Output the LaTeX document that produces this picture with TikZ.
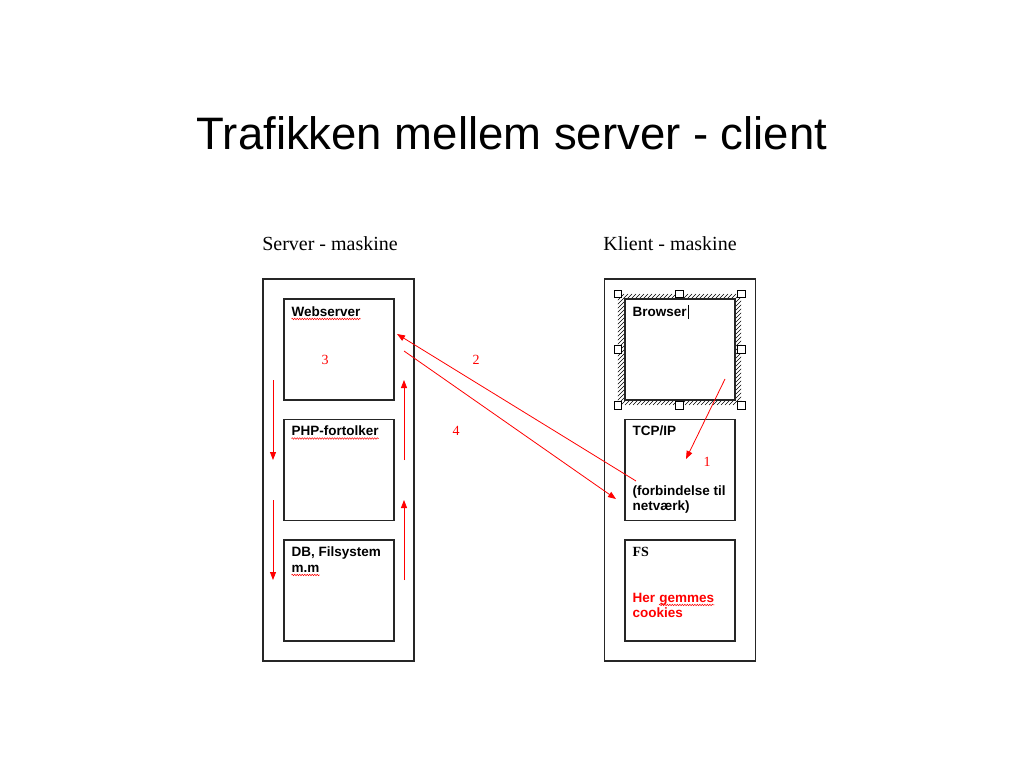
\documentclass[tikz,border=0pt]{standalone}
\usepackage{fontspec}
\setmainfont{Liberation Serif}
\newfontfamily\arialfont{Liberation Sans}
\usetikzlibrary{positioning,arrows.meta,decorations.pathmorphing}
\tikzset{
  machine/.style={draw=black!85, line width=1.1pt, minimum width=151pt, minimum height=382pt, inner sep=0pt},
  part/.style={draw=black!85, line width=1.1pt, fill=white, minimum width=110pt, minimum height=101pt, inner sep=0pt},
  boxtxt/.style={font=\arialfont\bfseries\fontsize{13.5}{16}\selectfont, inner sep=0pt, anchor=base west},
  heading/.style={font=\fontsize{20}{22}\selectfont},
  num/.style={red, font=\fontsize{14}{16}\selectfont},
  flow/.style={-{Triangle[length=8pt,width=6pt]}, red, line width=0.8pt},
  handle/.style={draw, fill=white, minimum size=7.5pt, inner sep=0pt, line width=0.7pt},
  spell/.style={red, line width=0.5pt, decorate, decoration={snake, amplitude=0.8pt, segment length=2.5pt}}
}
\begin{document}
\begin{tikzpicture}[x=1pt, y=-1pt]
        \useasboundingbox[fill=white] (0,0) rectangle (1024,768);

        % Title
        \node[font=\arialfont\fontsize{45.5}{50}\selectfont] (title) at (512,133) {Trafikken mellem server - client};

        % Machines
        \node[heading] (srvhead) at (330,244) {Server - maskine};
        \node[heading] (clihead) at (670,244) {Klient - maskine};
        \node[machine] (server) at (338.5,470) {};
        \node[machine] (client) at (680,470) {};

        % Server parts
        \node[part] (web) at (339,349.5) {};
        \node[part] (php) at (339,470) {};
        \node[part] (db) at (339,590.5) {};
        \node[boxtxt] (webtxt) at ([shift={(8,18)}]web.north west) {Webserver};
        \node[boxtxt] (phptxt) at ([shift={(8,17)}]php.north west) {PHP-fortolker};
        \node[boxtxt] (dbtxt) at ([shift={(8,17)}]db.north west) {DB, Filsystem};
        \node[boxtxt] (mmtxt) at ([shift={(8,33)}]db.north west) {m.m};
        \draw[spell] ([yshift=-2.5pt]webtxt.base west) -- ([yshift=-2.5pt]webtxt.base east);
        \draw[spell] ([yshift=-2.5pt]phptxt.base west) -- ([yshift=-2.5pt]phptxt.base east);
        \draw[spell] ([yshift=-2.5pt]mmtxt.base west) -- ([yshift=-2.5pt]mmtxt.base east);

        % Client parts, browser is selected
        \node[minimum width=123pt, minimum height=111pt, inner sep=0pt] (sel) at (679.5,349.5) {};
        \begin{scope}
          \clip (sel.north west) rectangle (sel.south east);
          \foreach \k in {505,509,...,745}
            \draw[line width=0.6pt] (\k,405) -- ++(111,-111);
        \end{scope}
        \foreach \a in {north west,north,north east,west,east,south west,south,south east}
          \node[handle] at (sel.\a) {};
        \node[part] (browser) at (680,349.5) {};
        \node[part] (tcp) at (680,470) {};
        \node[part] (fs) at (680,590.5) {};
        \node[boxtxt] (browsertxt) at ([shift={(8,18)}]browser.north west) {Browser};
        \draw[line width=0.8pt] ([xshift=1.5pt,yshift=2pt]browsertxt.north east) -- ([xshift=1.5pt,yshift=-2pt]browsertxt.south east);
        \node[boxtxt] (tcptxt) at ([shift={(8,17)}]tcp.north west) {TCP/IP};
        \node[boxtxt] (nettxt) at ([shift={(8,77)}]tcp.north west) {(forbindelse til};
        \node[boxtxt] (net2txt) at ([shift={(8,92)}]tcp.north west) {netværk)};
        \node[boxtxt, font=\bfseries\fontsize{14}{16}\selectfont] (fstxt) at ([shift={(8,17)}]fs.north west) {FS};
        \node[boxtxt, red] (hertxt) at ([shift={(8,63)}]fs.north west) {Her};
        \node[boxtxt, red] (gemtxt) at ([xshift=3.7pt]hertxt.base east) {gemmes};
        \node[boxtxt, red] (cookietxt) at ([shift={(8,78)}]fs.north west) {cookies};
        \draw[spell] ([yshift=-2.5pt]gemtxt.base west) -- ([yshift=-2.5pt]gemtxt.base east);

        % Flow inside the server
        \coordinate (d1a) at (273,380);
        \coordinate (d1b) at (273,460);
        \coordinate (d2a) at (273,500);
        \coordinate (d2b) at (273,580);
        \coordinate (u1a) at (404,460);
        \coordinate (u1b) at (404,380);
        \coordinate (u2a) at (404,580);
        \coordinate (u2b) at (404,500);
        \draw[flow] (d1a) -- (d1b);
        \draw[flow] (d2a) -- (d2b);
        \draw[flow] (u1a) -- (u1b);
        \draw[flow] (u2a) -- (u2b);

        % Traffic between the machines
        \coordinate (reqstart) at (636,481);
        \coordinate (reqend) at (397,334);
        \coordinate (ansstart) at (404,351);
        \coordinate (ansend) at (616,499);
        \coordinate (clickstart) at (725,379);
        \coordinate (clickend) at (686,459);
        \draw[flow] (reqstart) -- (reqend);
        \draw[flow] (ansstart) -- (ansend);
        \draw[flow] (clickstart) -- (clickend);

        % Step numbers
        \node[num] (n1) at (707,462) {1};
        \node[num] (n2) at (476,360) {2};
        \node[num] (n3) at (325,360) {3};
        \node[num] (n4) at (456,431) {4};
    \end{tikzpicture}
\end{document}
